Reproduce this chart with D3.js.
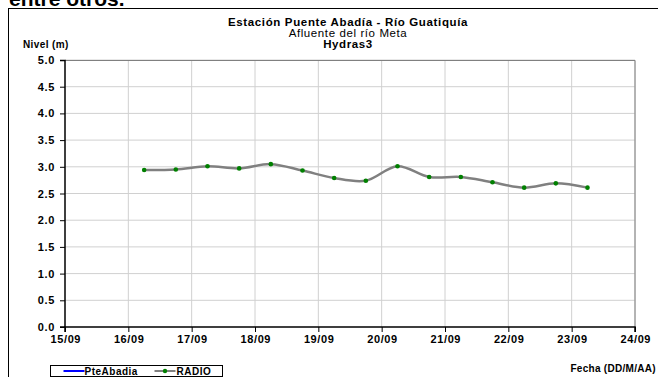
<!DOCTYPE html>
<html>
<head>
<meta charset="utf-8">
<script src="https://cdn.jsdelivr.net/npm/d3@7"></script>
<style>
  body { margin: 0; background: #fff; }
  svg { display: block; font-family: "Liberation Sans", Arial, sans-serif; }
</style>
</head>
<body>
<div id="chart"></div>
<script>
// Readings (RADIO series), every 12 h starting 16/09 06:00
const times = [
  "2009-09-16T06:00", "2009-09-16T18:00", "2009-09-17T06:00", "2009-09-17T18:00",
  "2009-09-18T06:00", "2009-09-18T18:00", "2009-09-19T06:00", "2009-09-19T18:00",
  "2009-09-20T06:00", "2009-09-20T18:00", "2009-09-21T06:00", "2009-09-21T18:00",
  "2009-09-22T06:00", "2009-09-22T18:00", "2009-09-23T06:00"
];
const radio = [2.94, 2.95, 3.01, 2.97, 3.05, 2.93, 2.79, 2.74, 3.01, 2.81, 2.81, 2.71, 2.61, 2.69, 2.61];
const yTicks = [0, 0.5, 1, 1.5, 2, 2.5, 3, 3.5, 4, 4.5, 5];
const xDomain = ["2009-09-15T00:00", "2009-09-24T00:00"];
const legendItems = ["PteAbadia", "RADIO"];

const width = 658, height = 377;
const margins = { top: 60, right: 23, bottom: 50, left: 65 };
const innerWidth = width - margins.left - margins.right;
const innerHeight = height - margins.top - margins.bottom;

const parse = d3.timeParse("%Y-%m-%dT%H:%M");
const data = times.map((t, i) => ({ date: parse(t), value: radio[i] }));

const svg = d3.select("#chart").append("svg")
  .attr("width", width)
  .attr("height", height);

// text cut at the top of the page
svg.append("text")
  .attr("x", 9).attr("y", 6)
  .attr("font-size", "21px").attr("font-weight", "bold")
  .text("entre otros.");

// outer chart frame
svg.append("rect")
  .attr("x", 8.5).attr("y", 8.5)
  .attr("width", width + 20).attr("height", height + 20)
  .attr("fill", "#fff").attr("stroke", "#000").attr("stroke-width", 1);

// titles
const cx = 348;
svg.append("text").attr("x", cx).attr("y", 25.5).attr("text-anchor", "middle")
  .attr("font-size", "11.5px").attr("font-weight", "bold").attr("letter-spacing", "0.65px")
  .text("Estación Puente Abadía  - Río Guatiquía");
svg.append("text").attr("x", cx).attr("y", 37).attr("text-anchor", "middle")
  .attr("font-size", "11.5px").attr("letter-spacing", "0.6px")
  .text("Afluente del río Meta");
svg.append("text").attr("x", cx).attr("y", 48).attr("text-anchor", "middle")
  .attr("font-size", "11.5px").attr("font-weight", "bold").attr("letter-spacing", "0.6px")
  .text("Hydras3");
svg.append("text").attr("x", 23).attr("y", 48)
  .attr("font-size", "10px").attr("font-weight", "bold").attr("letter-spacing", "0.4px")
  .text("Nivel (m)");

const x = d3.scaleTime().domain(xDomain.map(parse)).range([0, innerWidth]);
const y = d3.scaleLinear().domain([0, 5]).range([innerHeight, 0]);

const mainG = svg.append("g")
  .attr("transform", `translate(${margins.left},${margins.top})`);

const dayTicks = d3.timeDay.range(x.domain()[0], d3.timeDay.offset(x.domain()[1], 1));

// grid
mainG.append("g").selectAll("line.h")
  .data(yTicks.slice(1))
  .join("line")
  .attr("x1", 0).attr("x2", innerWidth)
  .attr("y1", (d) => y(d)).attr("y2", (d) => y(d))
  .attr("stroke", "#d0d0d0").attr("stroke-width", 1);
mainG.append("g").selectAll("line.v")
  .data(dayTicks.slice(1))
  .join("line")
  .attr("x1", (d) => x(d)).attr("x2", (d) => x(d))
  .attr("y1", 0).attr("y2", innerHeight)
  .attr("stroke", "#d0d0d0").attr("stroke-width", 1);

// plot border (top / right)
mainG.append("path")
  .attr("d", `M0,0.5H${innerWidth}V${innerHeight}`)
  .attr("fill", "none").attr("stroke", "#808080").attr("stroke-width", 1);

// axes
const yAxisG = mainG.append("g")
  .call(d3.axisLeft(y).tickValues(yTicks).tickSize(5).tickPadding(4).tickFormat(d3.format(".1f")));
const xAxisG = mainG.append("g")
  .attr("transform", `translate(0,${innerHeight})`)
  .call(d3.axisBottom(x).tickValues(dayTicks).tickSize(5).tickPadding(3).tickFormat(d3.timeFormat("%d/%m")));

[yAxisG, xAxisG].forEach((g) => {
  g.select(".domain").attr("stroke", "#000").attr("stroke-width", 1.5);
  g.selectAll(".tick line").attr("stroke", "#000");
  g.selectAll("text").attr("font-size", "11px").attr("font-weight", "bold")
    .attr("fill", "#000").attr("letter-spacing", "0.6px")
    .attr("font-family", "Liberation Sans, Arial, sans-serif");
});
yAxisG.selectAll("text").attr("dx", "-0.1em");
xAxisG.selectAll("text").attr("dx", "0.3px");
yAxisG.select(".domain").attr("d", `M-5,0.5H0V${innerHeight}H-5`);
xAxisG.select(".domain").attr("d", `M0,5V0H${innerWidth}V5`);

// series
const line = d3.line()
  .x((d) => x(d.date))
  .y((d) => y(d.value))
  .curve(d3.curveCatmullRom.alpha(0.5));

mainG.append("path")
  .datum(data)
  .attr("d", line)
  .attr("fill", "none")
  .attr("stroke", "#808080")
  .attr("stroke-width", 2.5);

mainG.append("g").selectAll("circle")
  .data(data)
  .join("circle")
  .attr("cx", (d) => x(d.date))
  .attr("cy", (d) => y(d.value))
  .attr("r", 2.3)
  .attr("fill", "#008000");

// legend
const legendG = svg.append("g").attr("transform", "translate(50.5,365.5)");
legendG.append("rect")
  .attr("width", 172).attr("height", 11)
  .attr("fill", "#fff").attr("stroke", "#000").attr("stroke-width", 1);
legendG.append("line")
  .attr("x1", 13).attr("x2", 34).attr("y1", 5.5).attr("y2", 5.5)
  .attr("stroke", "#0000ff").attr("stroke-width", 2);
legendG.append("text").attr("x", 34).attr("y", 9)
  .attr("font-size", "10px").attr("font-weight", "bold").attr("letter-spacing", "0.5px")
  .text(legendItems[0]);
legendG.append("line")
  .attr("x1", 104).attr("x2", 125).attr("y1", 5.5).attr("y2", 5.5)
  .attr("stroke", "#808080").attr("stroke-width", 2);
legendG.append("circle").attr("cx", 114.5).attr("cy", 5.5).attr("r", 2.2).attr("fill", "#008000");
legendG.append("text").attr("x", 126).attr("y", 9)
  .attr("font-size", "10px").attr("font-weight", "bold").attr("letter-spacing", "0.5px")
  .text(legendItems[1]);

svg.append("text").attr("x", 656).attr("y", 371.5).attr("text-anchor", "end")
  .attr("font-size", "10px").attr("font-weight", "bold").attr("letter-spacing", "0.3px")
  .text("Fecha (DD/M/AA)");
</script>
</body>
</html>
